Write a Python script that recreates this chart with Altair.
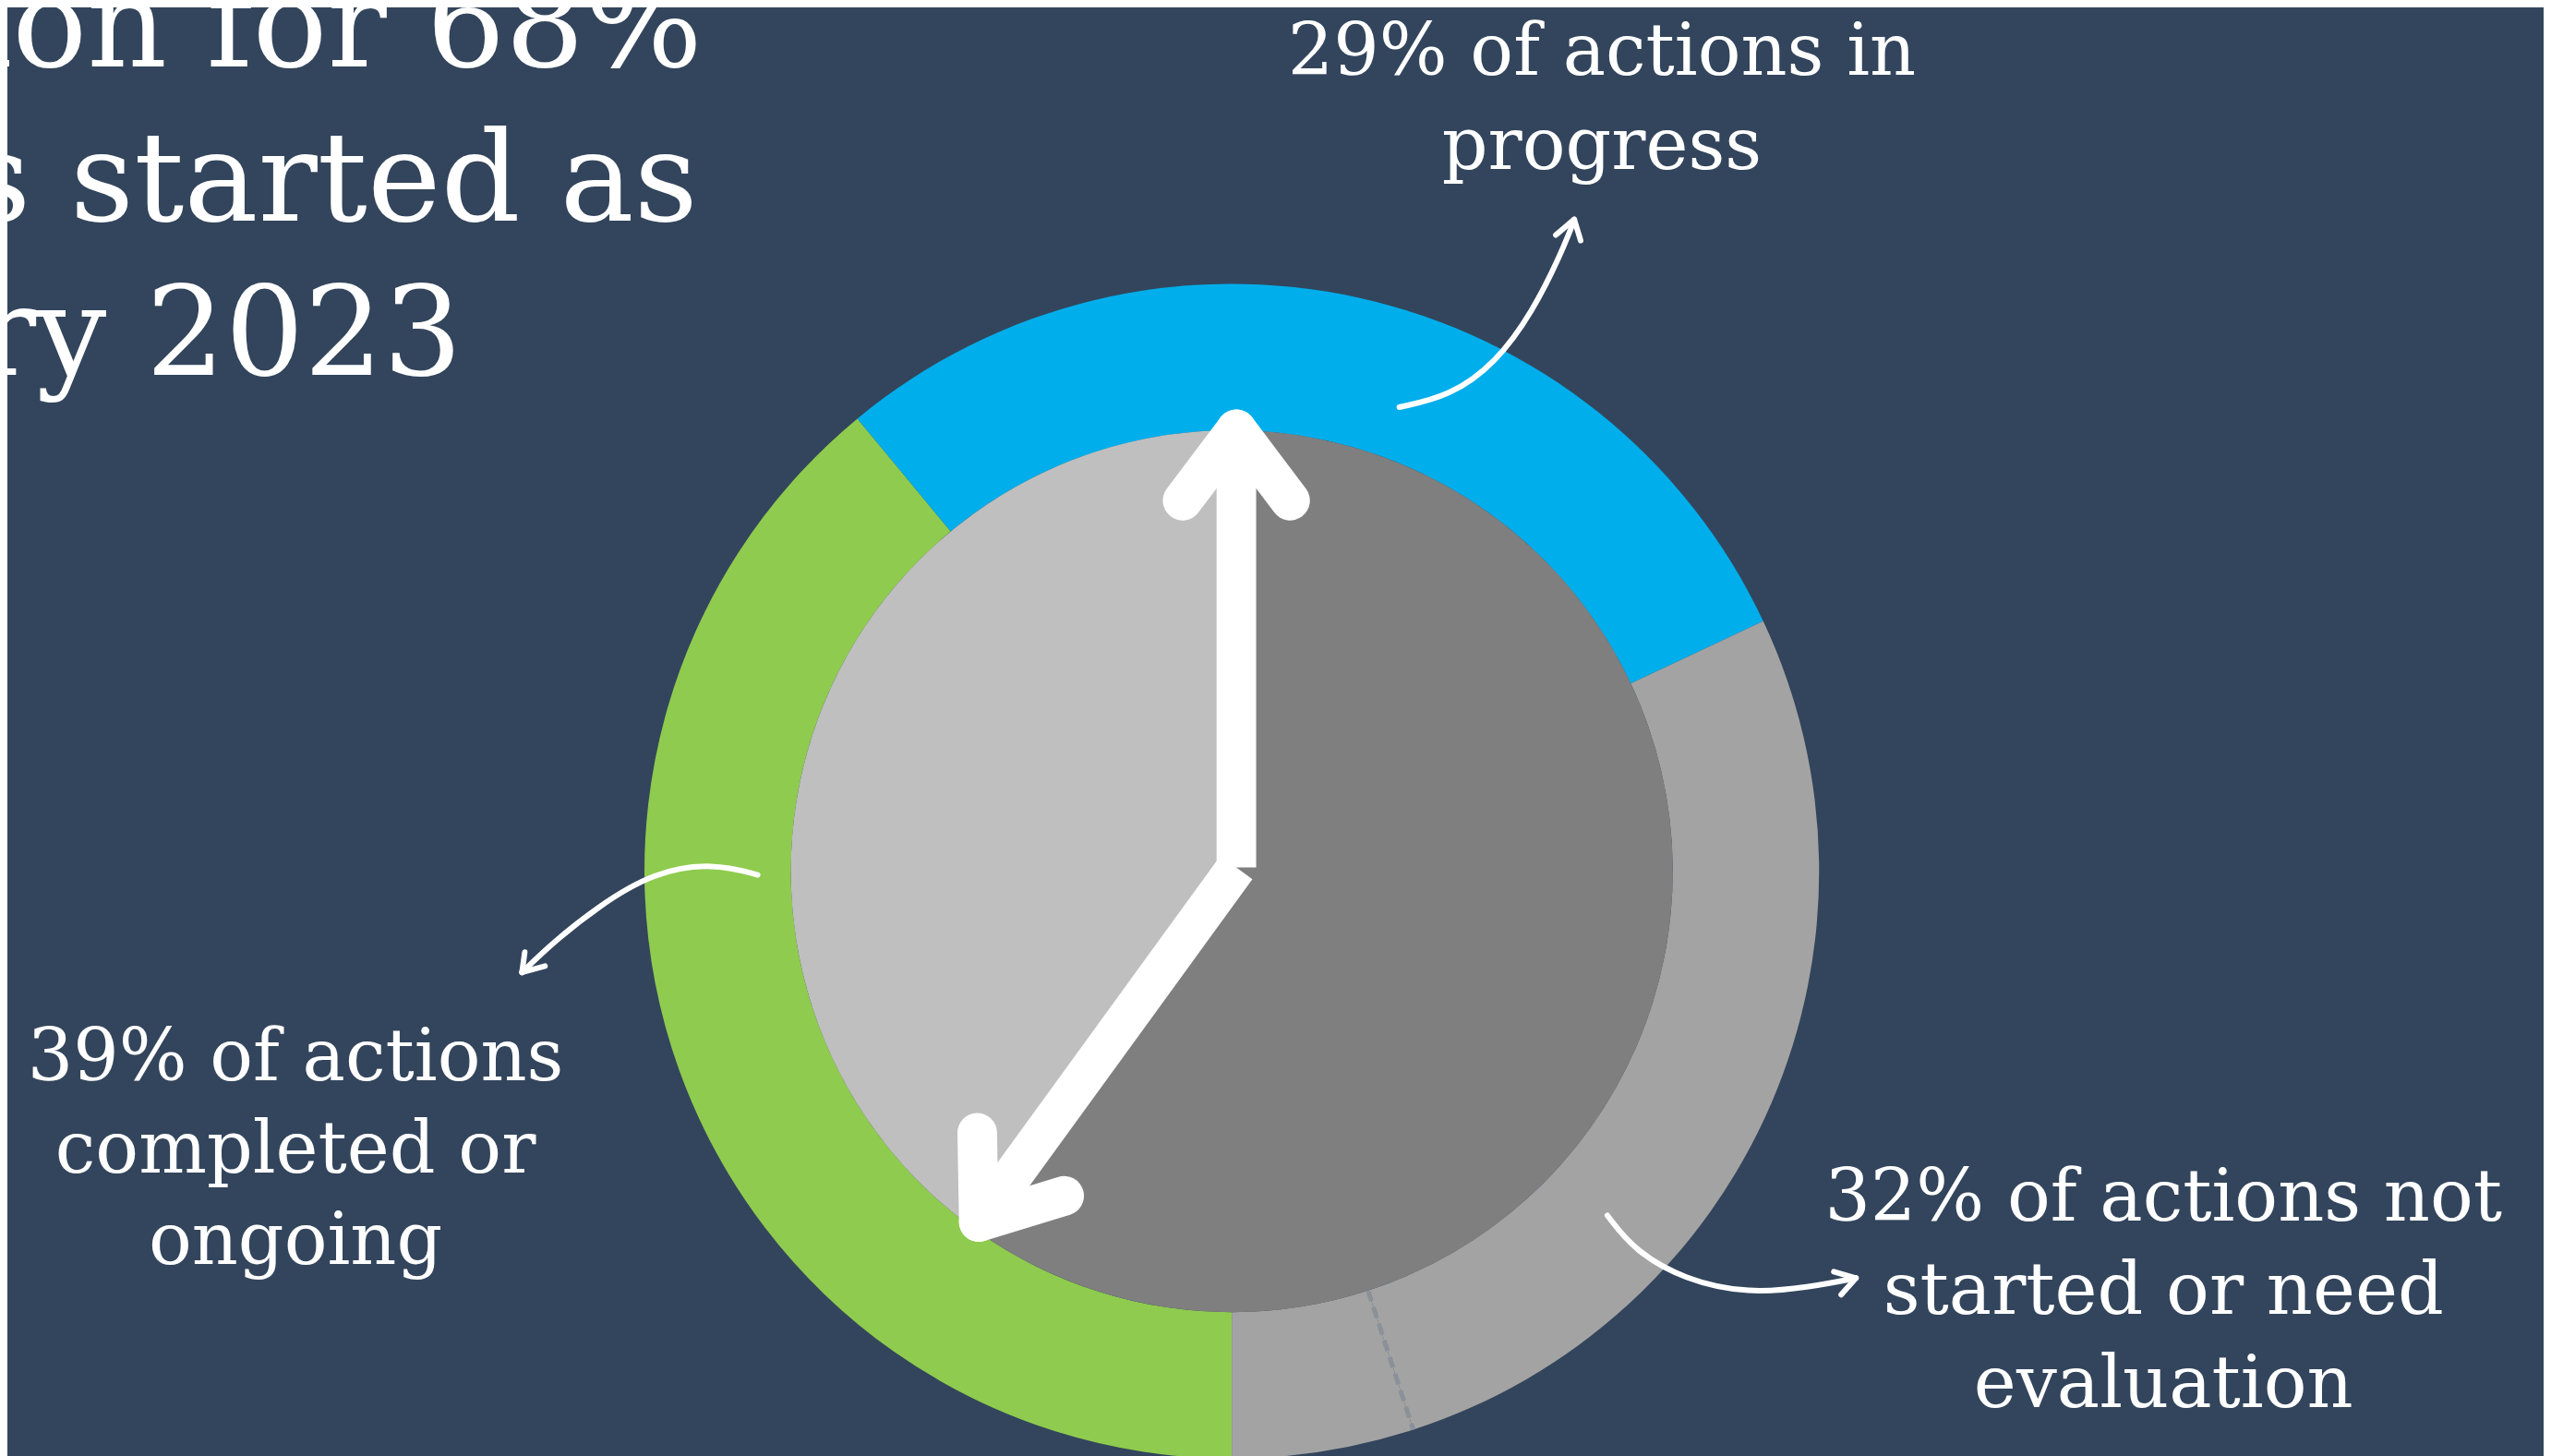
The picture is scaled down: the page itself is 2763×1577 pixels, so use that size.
import math
import altair as alt
import pandas as pd

# ---------------- data ----------------
ring_labels = ["Completed or ongoing", "In progress", "Not started", "Need evaluation"]
ring_values = [39, 29, 27, 5]
ring_colors = ["#8FCB4E", "#00AEEB", "#A3A3A3", "#A3A3A3"]

inner_labels = ["Elapsed", "Remaining"]
inner_values = [60, 40]
inner_colors = ["#7F7F7F", "#BFBFBF"]

title_lines = ["Implementation for 68%", "of actions started as", "of January 2023"]
label_in_progress = ["29% of actions in", "progress"]
label_completed = ["39% of actions", "completed or", "ongoing"]
label_not_started = ["32% of actions not", "started or need", "evaluation"]

# ---------------- layout (reference pixel space, minus page margin) ----------------
W, H = 2755, 1569
OFF = 8
BG = "#33455C"
FONT = "DejaVu Serif"

CX, CY = 1338 - OFF, 944 - OFF
R_IN, R_OUT = 479, 638
PX, PY = 1343 - OFF, 940 - OFF
HAND_LEN = 476
ARM_LEN = 97
ARM_ANG = math.radians(37)
HAND_W = 43

XS = alt.Scale(domain=[0, W], range=[0, W], nice=False, zero=False)
YS = alt.Scale(domain=[0, H], range=[0, H], nice=False, zero=False)


def X(f="x"):
    return alt.X(f"{f}:Q", scale=XS, axis=None)


def Y(f="y"):
    return alt.Y(f"{f}:Q", scale=YS, axis=None)


# outer ring
ring_df = pd.DataFrame({"segment": ring_labels, "value": ring_values,
                        "order": list(range(len(ring_labels)))})
ring = alt.Chart(ring_df).mark_arc(radius=R_OUT, radius2=R_IN).encode(
    theta=alt.Theta("value:Q", stack=True,
                    scale=alt.Scale(range=[math.pi, 3 * math.pi])),
    color=alt.Color("segment:N", scale=alt.Scale(domain=ring_labels, range=ring_colors),
                    legend=None),
    order=alt.Order("order:Q"),
    x=alt.value(CX), y=alt.value(CY),
)

# inner pie
inner_df = pd.DataFrame({"part": inner_labels, "value": inner_values,
                         "order": list(range(len(inner_labels)))})
pie = alt.Chart(inner_df).mark_arc(radius=R_IN).encode(
    theta=alt.Theta("value:Q", stack=True),
    color=alt.Color("part:N", scale=alt.Scale(domain=inner_labels, range=inner_colors),
                    legend=None),
    order=alt.Order("order:Q"),
    x=alt.value(CX), y=alt.value(CY),
)

# dashed boundary between "Not started" and "Need evaluation"
cum = sum(ring_values[:3]) / sum(ring_values)
ang = math.pi + cum * 2 * math.pi
dash_df = pd.DataFrame({
    "x": [CX + R_IN * math.sin(ang)], "y": [CY - R_IN * math.cos(ang)],
    "x2": [CX + R_OUT * math.sin(ang)], "y2": [CY - R_OUT * math.cos(ang)],
})
dash = alt.Chart(dash_df).mark_rule(color="#8A9199", strokeWidth=5,
                                    strokeDash=[12, 7]).encode(
    x=X(), y=Y(), x2="x2:Q", y2="y2:Q")

# clock hands, angles derived from the inner pie
hour_angle = 2 * math.pi * inner_values[0] / sum(inner_values)
hand_angles = [0.0, hour_angle]
shafts, arms = [], []
for a in hand_angles:
    ax, ay = PX + HAND_LEN * math.sin(a), PY - HAND_LEN * math.cos(a)
    shafts.append({"x": PX, "y": PY, "x2": ax, "y2": ay})
    back = a + math.pi
    for s in (-1, 1):
        b = back + s * ARM_ANG
        arms.append({"x": ax, "y": ay,
                     "x2": ax + ARM_LEN * math.sin(b), "y2": ay - ARM_LEN * math.cos(b)})

shaft_layer = alt.Chart(pd.DataFrame(shafts)).mark_rule(
    color="white", strokeWidth=HAND_W, strokeCap="butt").encode(
    x=X(), y=Y(), x2="x2:Q", y2="y2:Q")
arm_layer = alt.Chart(pd.DataFrame(arms)).mark_rule(
    color="white", strokeWidth=HAND_W, strokeCap="round").encode(
    x=X(), y=Y(), x2="x2:Q", y2="y2:Q")

# annotation arrows (reference pixel positions; smoothed with a basis curve)
arrow_paths = {
    "progress": [(1520, 440), (1575, 428), (1625, 392), (1665, 336), (1695, 275), (1710, 237)],
    "completed": [(823, 948), (775, 935), (710, 945), (650, 982), (600, 1022), (567, 1054)],
    "notstarted": [(1746, 1318), (1775, 1356), (1830, 1388), (1900, 1403), (1965, 1396),
                   (2016, 1386)],
}
arrow_heads = {
    "progress": [(1710, 236), (1690, 253), (1717, 259)],
    "completed": [(567, 1054), (570, 1032), (592, 1047)],
    "notstarted": [(2016, 1386), (1992, 1379), (2000, 1404)],
}
path_rows = []
for name, pts in arrow_paths.items():
    for i, (px, py) in enumerate(pts):
        path_rows.append({"arrow": name, "i": i, "x": px - OFF, "y": py - OFF})
head_rows = []
for name, (tip, a1, a2) in arrow_heads.items():
    for e in (a1, a2):
        head_rows.append({"x": tip[0] - OFF, "y": tip[1] - OFF,
                          "x2": e[0] - OFF, "y2": e[1] - OFF})

arrow_lines = alt.Chart(pd.DataFrame(path_rows)).mark_line(
    color="white", strokeWidth=6, strokeCap="round", strokeJoin="round",
    interpolate="basis").encode(
    x=X(), y=Y(), detail="arrow:N", order="i:Q")
arrow_tips = alt.Chart(pd.DataFrame(head_rows)).mark_rule(
    color="white", strokeWidth=6, strokeCap="round").encode(
    x=X(), y=Y(), x2="x2:Q", y2="y2:Q")


# texts
def text_layer(lines, xs, y0, dy, size, align):
    if not isinstance(xs, list):
        xs = [xs] * len(lines)
    df = pd.DataFrame({"text": lines,
                       "x": [v - OFF for v in xs],
                       "y": [y0 - OFF + k * dy for k in range(len(lines))]})
    return alt.Chart(df).mark_text(font=FONT, fontSize=size, color="white", align=align,
                                   baseline="alphabetic").encode(x=X(), y=Y(), text="text:N")


title = text_layer(title_lines, [763, 758, 502], 70, 167.5, 135, "right")
t_prog = text_layer(label_in_progress, 1740, 79, 102, 78, "center")
t_comp = text_layer(label_completed, 321, 1171, 100, 78, "center")
t_not = text_layer(label_not_started, 2350, 1324, 101, 78, "center")

chart = alt.layer(
    ring, pie, dash, shaft_layer, arm_layer, arrow_lines, arrow_tips,
    title, t_prog, t_comp, t_not,
).resolve_scale(theta="independent", color="independent").properties(
    width=W, height=H, padding=0, autosize=alt.AutoSizeParams(type="none"),
    background=BG,
).configure_view(strokeWidth=0)

chart.save("out.html", embed_options={"renderer": "svg", "actions": False})
